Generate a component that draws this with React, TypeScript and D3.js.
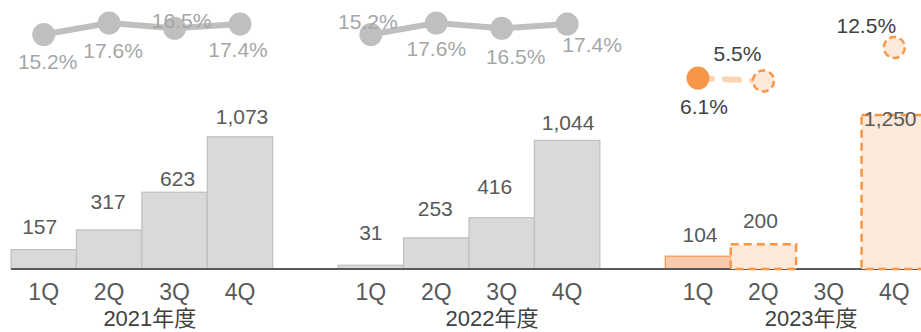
import React from 'react';
import * as d3 from 'd3';

const years = ['2021年度', '2022年度', '2023年度'];
const quarters = ['1Q', '2Q', '3Q', '4Q'];
const sales2021 = [157, 317, 623, 1073];
const sales2022 = [31, 253, 416, 1044];
const sales2023: (number | null)[] = [104, 200, null, 1250];
const margin2021 = [15.2, 17.6, 16.5, 17.4];
const margin2022 = [15.2, 17.6, 16.5, 17.4];
const margin2023: (number | null)[] = [6.1, 5.5, null, 12.5];
const forecast2023 = [false, true, false, true];

// label placement tweaks (style only)
const barLabelOffsets = [
  [[-4, 23], [-1, 28], [3, 14], [2, 20]],
  [[0, 33], [-1, 29], [-7, 31], [1, 18]],
  [[2, 22], [-3, 24], [0, 0], [-4, -3]],
];
const lineLabelOffsets = [
  [[4, 27], [4, 27], [7, -8], [-2, 25]],
  [[-3, -13], [0, 25], [14, 28], [25, 20]],
  [[6, 28], [-26, -27], [0, 0], [-28, -22]],
];
const yearLabelDx = [8, 23, 15];

const W = 921;
const H = 332;
const FONT = 'Arial, "Liberation Sans", "Noto Sans CJK JP", sans-serif';

export default function App() {
  const salesByYear = [sales2021, sales2022, sales2023];
  const marginByYear = [margin2021, margin2022, margin2023];

  const slots: string[] = [];
  years.forEach((y, i) => {
    quarters.forEach((q) => slots.push(`${y}-${q}`));
    if (i < years.length - 1) slots.push(`gap-${i}`);
  });

  const x = d3.scaleBand<string>().domain(slots).range([11, 927]).paddingInner(0).paddingOuter(0);
  const y = d3.scaleLinear().domain([0, 1250]).range([269, 115]);
  const ym = d3.scaleLinear().domain([0, 20]).range([107.2, 11.6]);
  const bw = x.bandwidth();

  const grayFill = '#d9d9d9';
  const grayStroke = '#bfbfbf';
  const orange = '#f79646';
  const orangeFill = '#f8cbad';
  const orangeLight = '#fde9d9';
  const lineGray = '#bfbfbf';

  const actualBars: JSX.Element[] = [];
  const forecastBars: JSX.Element[] = [];
  const barLabels: JSX.Element[] = [];
  years.forEach((yr, yi) => {
    salesByYear[yi].forEach((v, qi) => {
      if (v == null) return;
      const key = `${yr}-${quarters[qi]}`;
      const x0 = x(key)!;
      const top = y(v);
      const isFc = yi === 2 && forecast2023[qi];
      const isCur = yi === 2 && !forecast2023[qi];
      const rect = (
        <rect
          key={key}
          x={x0}
          y={top}
          width={bw}
          height={y(0) - top}
          fill={isFc ? orangeLight : isCur ? orangeFill : grayFill}
          stroke={isFc || isCur ? orange : grayStroke}
          strokeWidth={isFc ? 2.5 : 1.2}
          strokeDasharray={isFc ? '8 5' : undefined}
        />
      );
      if (isFc) forecastBars.push(rect);
      else actualBars.push(rect);
      const [dx, dy] = barLabelOffsets[yi][qi];
      barLabels.push(
        <text
          key={'l' + key}
          x={x0 + bw / 2 + dx}
          y={top - dy + 7.5}
          textAnchor="middle"
          fontSize={21}
          fill="#595959"
        >
          {d3.format(',')(v)}
        </text>
      );
    });
  });

  const lines: JSX.Element[] = [];
  const markers: JSX.Element[] = [];
  const lineLabels: JSX.Element[] = [];
  years.forEach((yr, yi) => {
    const pts = marginByYear[yi].map((v, qi) =>
      v == null ? null : ([x(`${yr}-${quarters[qi]}`)! + bw / 2, ym(v)] as [number, number])
    );
    const is23 = yi === 2;
    const lineGen = d3
      .line<[number, number] | null>()
      .defined((d) => d != null)
      .x((d) => d![0])
      .y((d) => d![1]);
    lines.push(
      <path
        key={'line' + yr}
        d={lineGen(pts) || ''}
        fill="none"
        stroke={is23 ? '#fbd4b4' : lineGray}
        strokeWidth={6}
        strokeLinecap="round"
        strokeDasharray={is23 ? '14 13' : undefined}
      />
    );
    pts.forEach((p, qi) => {
      if (!p) return;
      const fc = is23 && forecast2023[qi];
      markers.push(
        <circle
          key={'m' + yr + qi}
          cx={p[0]}
          cy={p[1]}
          r={fc ? 10.5 : 11.5}
          fill={is23 ? (fc ? orangeLight : orange) : lineGray}
          stroke={fc ? orange : 'none'}
          strokeWidth={fc ? 2.5 : 0}
          strokeDasharray={fc ? '7 4' : undefined}
        />
      );
      const [dx, dy] = lineLabelOffsets[yi][qi];
      lineLabels.push(
        <text
          key={'ml' + yr + qi}
          x={p[0] + dx}
          y={p[1] + dy + 7.5}
          textAnchor="middle"
          fontSize={21}
          fill={is23 ? '#404040' : '#a6a6a6'}
        >
          {d3.format('.1f')(marginByYear[yi][qi] as number)}%
        </text>
      );
    });
  });

  return (
    <svg
      width={W}
      height={H}
      style={{ position: 'absolute', left: 0, top: 0, fontFamily: FONT }}
    >
      <rect width={W} height={H} fill="#ffffff" />
      {actualBars}
      <line x1={11} x2={W} y1={y(0)} y2={y(0)} stroke="#595959" strokeWidth={2} />
      {forecastBars}
      {barLabels}
      {lines}
      {markers}
      {lineLabels}
      {years.map((yr, yi) =>
        quarters.map((q) => (
          <text
            key={'ax' + yr + q}
            x={x(`${yr}-${q}`)! + bw / 2}
            y={300}
            textAnchor="middle"
            fontSize={23}
            fill="#595959"
          >
            {q}
          </text>
        ))
      )}
      {years.map((yr, yi) => {
        const x0 = x(`${yr}-1Q`)!;
        const x1 = x(`${yr}-4Q`)! + bw;
        return (
          <text
            key={'yr' + yr}
            x={(x0 + x1) / 2 + yearLabelDx[yi]}
            y={326}
            textAnchor="middle"
            fontSize={22}
            fill="#404040"
          >
            {yr}
          </text>
        );
      })}
    </svg>
  );
}
